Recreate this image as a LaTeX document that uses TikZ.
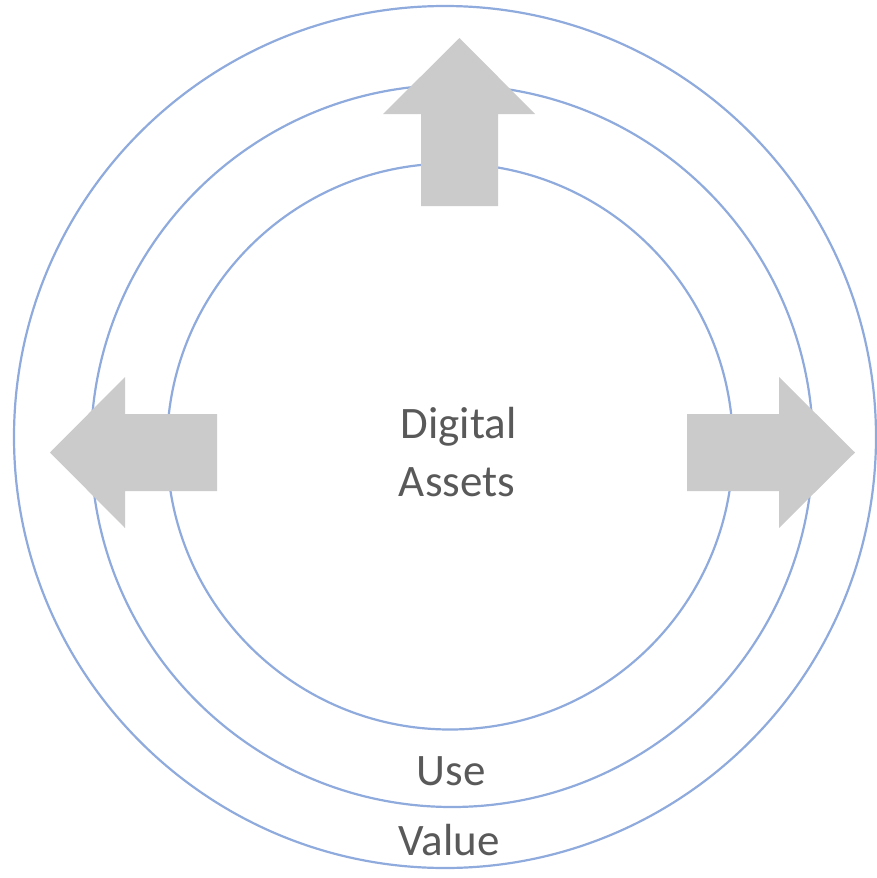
\documentclass[tikz,border=0pt]{standalone}
\usepackage{fontspec}
\setmainfont{Carlito}
\definecolor{ringblue}{HTML}{8FAADC}
\definecolor{arrowgray}{HTML}{CBCBCB}
\definecolor{txtgray}{HTML}{595959}
\begin{document}
\begin{tikzpicture}[x=1pt,y=-1pt,
  ring/.style={draw=ringblue,line width=2.2pt},
  bigarrow/.style={fill=arrowgray,draw=none},
  lbl/.style={text=txtgray,font=\fontsize{45}{54}\selectfont,inner sep=0pt,anchor=base}]
\useasboundingbox (0,0) rectangle (876,878);
% rings
\draw[ring] (445,437) circle[radius=431];
\draw[ring] (452,446) circle[radius=361];
\draw[ring] (450,446.5) circle[radius=283];
% arrows
\fill[bigarrow] (459.5,38) -- (535,114) -- (498,114) -- (498,206) -- (421,206) -- (421,114) -- (383,114) -- cycle;
\fill[bigarrow] (50,452.5) -- (125,377) -- (125,414) -- (217,414) -- (217,491) -- (125,491) -- (125,528) -- cycle;
\fill[bigarrow] (855,452.5) -- (779,377) -- (779,414) -- (687,414) -- (687,491) -- (779,491) -- (779,528) -- cycle;
% labels
\node[lbl] (digital) at (458.5,438) {Digital};
\node[lbl] (assets) at (457,496) {Assets};
\node[lbl] (use) at (451,785) {Use};
\node[lbl] (value) at (449,855) {Value};
\end{tikzpicture}
\end{document}
